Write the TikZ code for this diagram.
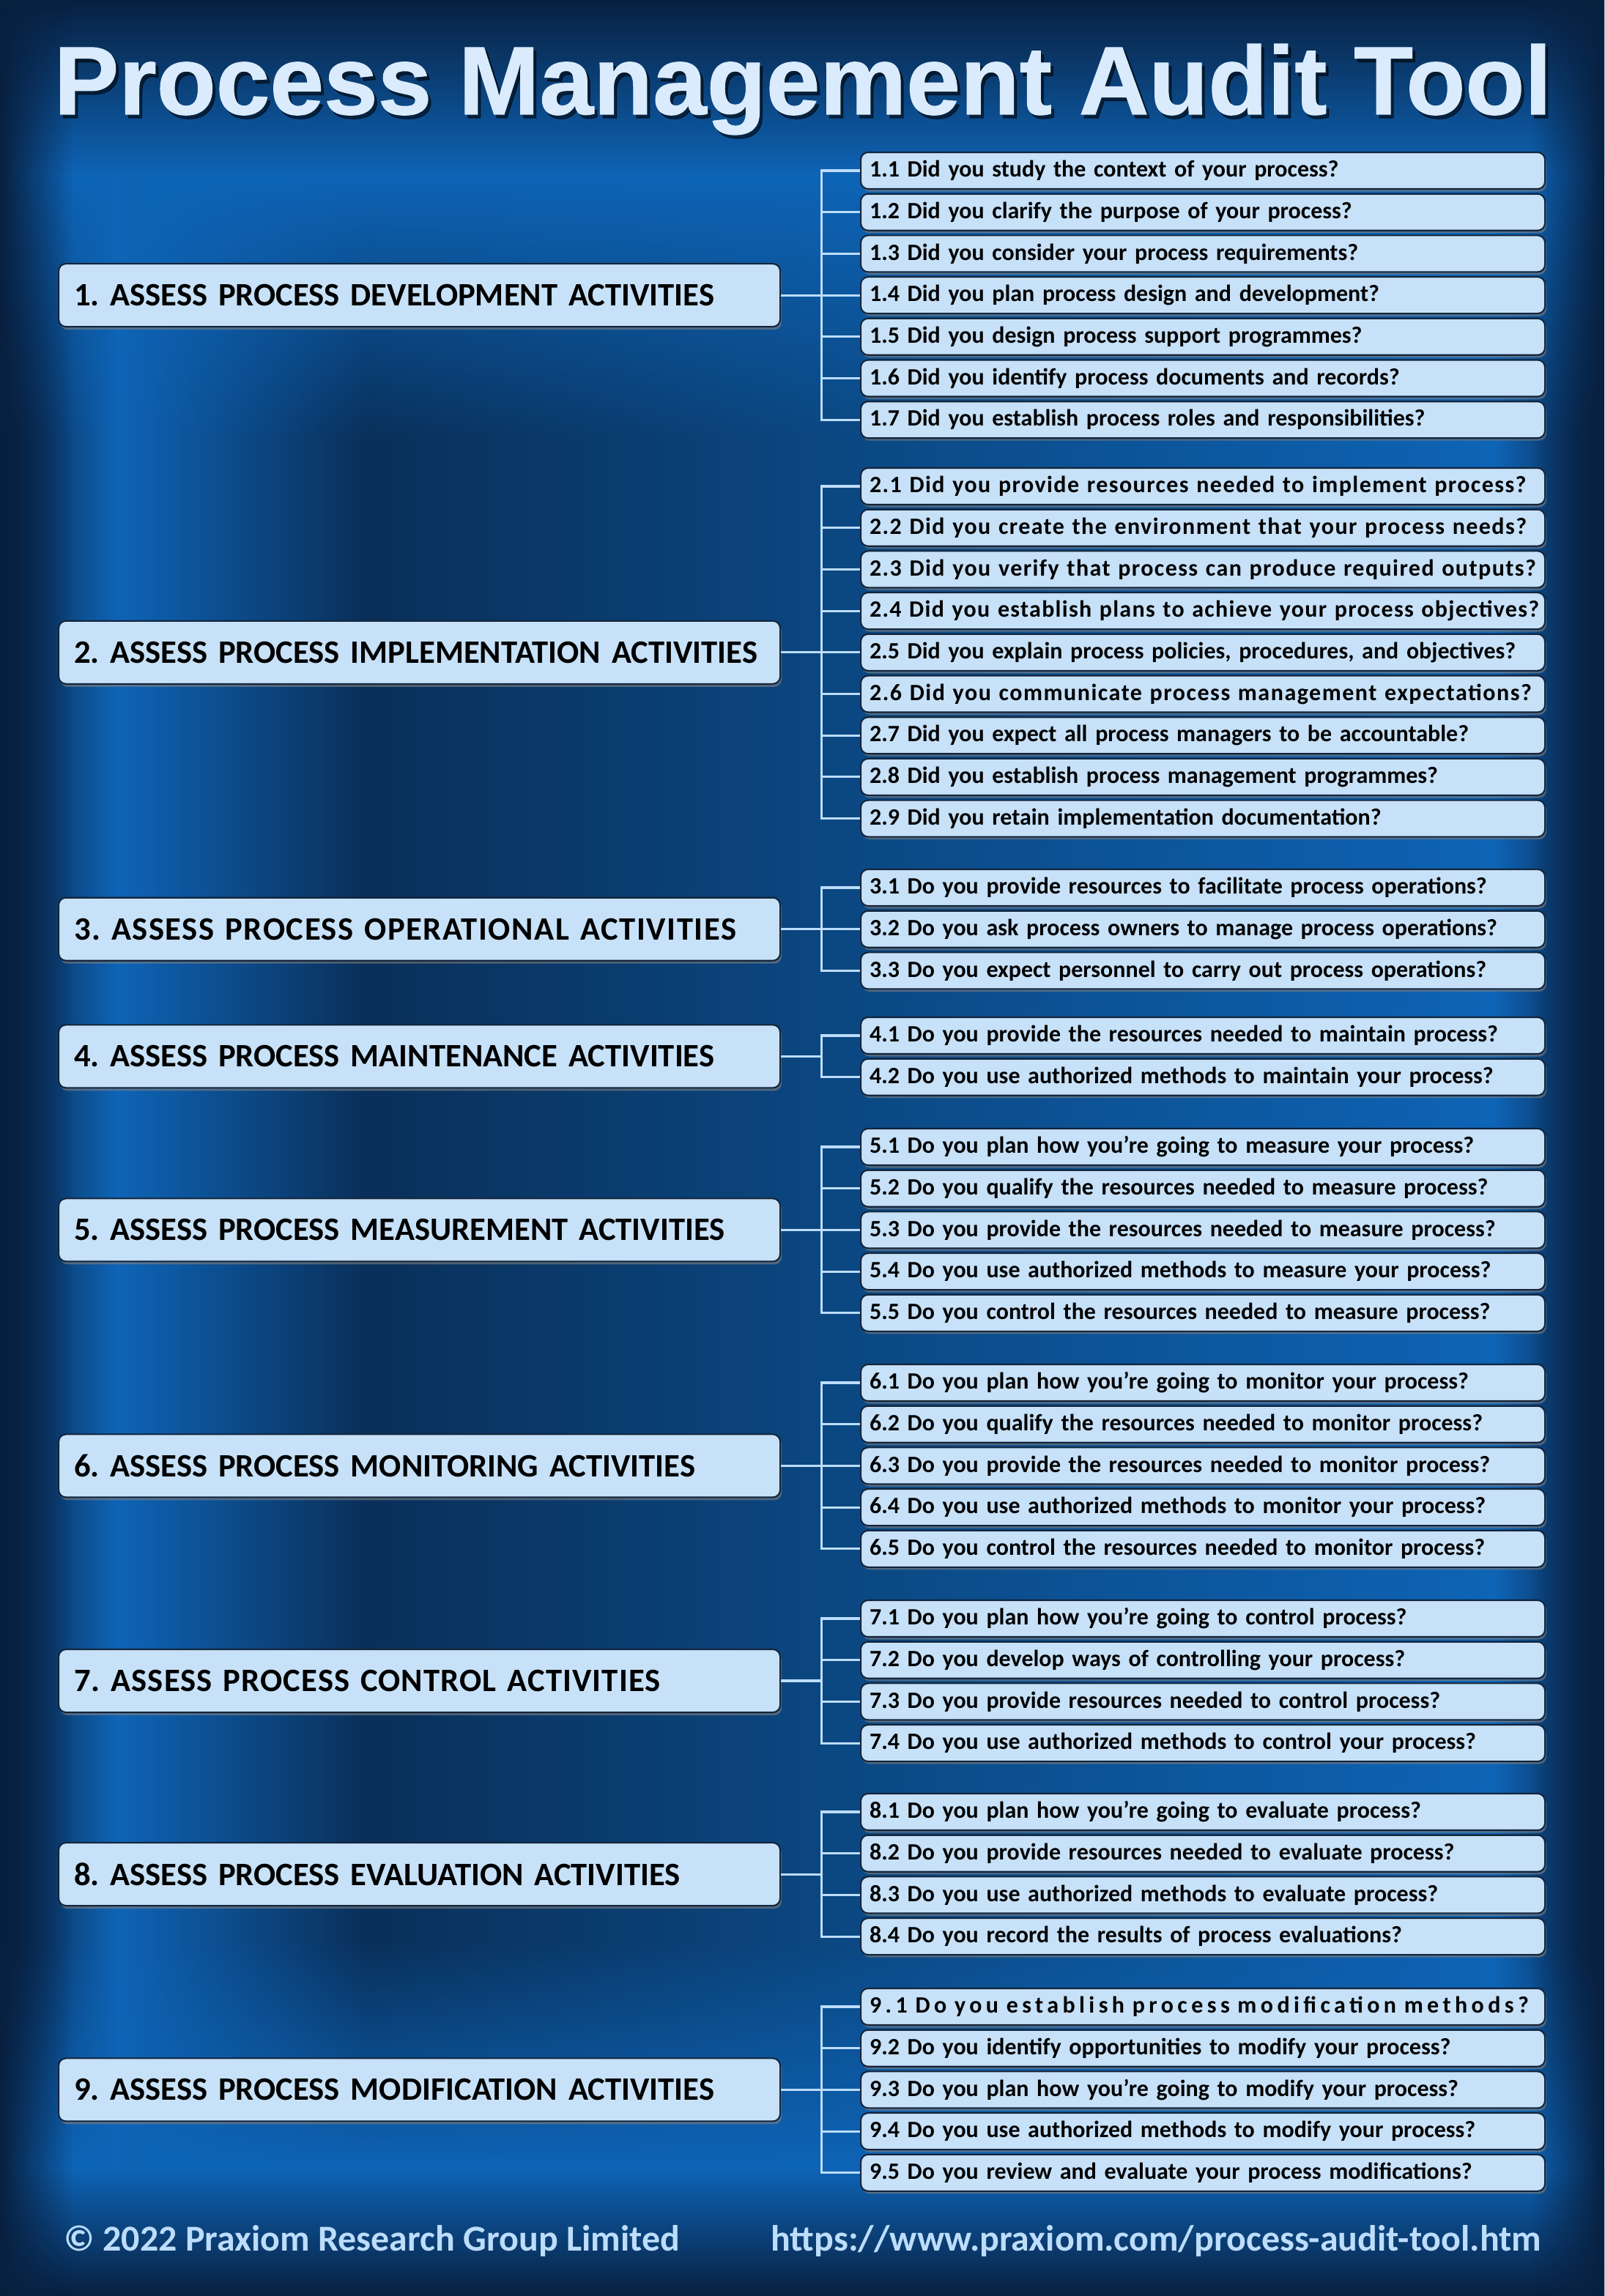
\documentclass[tikz,border=0pt]{standalone}
\usepackage{fontspec}
\setmainfont{Carlito}
\newfontfamily\titlefont{Liberation Sans}[BoldFeatures={FakeBold=0.8}]
\usetikzlibrary{shadows,fadings}
\definecolor{bgDark}{HTML}{082040}
\definecolor{bgMid}{HTML}{0B467F}
\definecolor{bgBright}{HTML}{0E64B6}
\definecolor{boxFill}{HTML}{C6E1F8}
\definecolor{boxEdge}{HTML}{13243A}
\definecolor{twigBlue}{HTML}{BCDDFB}
\definecolor{titleBlue}{HTML}{D9EBFC}
\tikzfading[name=fadetop, top color=transparent!0, bottom color=transparent!100]
\tikzfading[name=fadebottom, top color=transparent!100, bottom color=transparent!0]
\tikzfading[name=fadeleft, left color=transparent!0, right color=transparent!100]
\tikzfading[name=faderight, left color=transparent!100, right color=transparent!0]
\newcommand{\spaced}[1]{\addfontfeature{LetterSpace=#1}}
\frenchspacing
\begin{document}
\begin{tikzpicture}
\def\pitch{0.567}
\tikzset{mainbox/.style={rectangle, draw=boxEdge, line width=0.6pt, fill=boxFill, rounded corners=0.1cm, anchor=west, minimum height=0.86cm, text width=9.43cm, inner xsep=0.21cm, inner ysep=0pt, align=left, font=\fontsize{12.7}{14}\selectfont\bfseries, drop shadow={shadow xshift=0.02cm, shadow yshift=-0.04cm, opacity=0.6}}}
\tikzset{subbox/.style={rectangle, draw=boxEdge, line width=0.6pt, fill=boxFill, rounded corners=0.1cm, anchor=west, minimum height=0.5cm, text width=9.1cm, inner xsep=0.12cm, inner ysep=0pt, align=left, font=\fontsize{9.1}{10}\selectfont\bfseries, drop shadow={shadow xshift=0.02cm, shadow yshift=-0.035cm, opacity=0.6}}}
\tikzset{twig/.style={draw=twigBlue, line width=0.9pt}}
\tikzset{foot/.style={text=twigBlue, font=\fontsize{14.2}{16}\selectfont\bfseries, inner sep=0pt}}

% background
\shade[left color=bgDark, right color=bgBright] (0,0) rectangle (1.6,-31.35);
\shade[left color=bgBright, right color=bgDark!60!bgMid] (1.6,0) rectangle (5,-31.35);
\shade[left color=bgDark!60!bgMid, right color=bgMid] (5,0) rectangle (11,-31.35);
\shade[left color=bgMid, right color=bgBright] (11,0) rectangle (20.4,-31.35);
\shade[left color=bgBright, right color=bgDark] (20.4,0) rectangle (21.9,-31.35);
\fill[bgBright, path fading=fadetop] (0,-2.4) rectangle (21.9,-6.0);
\shade[top color=bgDark, bottom color=bgBright] (0,0) rectangle (21.9,-2.4);
\fill[bgBright, path fading=fadebottom] (0,-26.5) rectangle (21.9,-29.6);
\shade[top color=bgBright, bottom color=bgDark] (0,-29.6) rectangle (21.9,-31.35);
\fill[bgDark, path fading=fadeleft] (0,0) rectangle (1.0,-31.35);
\fill[bgDark, path fading=faderight] (20.9,0) rectangle (21.9,-31.35);

% title
\node[anchor=base, text=black, opacity=0.55, font=\titlefont\bfseries\fontsize{37.7}{40}\selectfont] (titleshade) at (11.0,-1.61) {Process Management Audit Tool};
\node[anchor=base, text=titleBlue, font=\titlefont\bfseries\fontsize{37.7}{40}\selectfont] (title) at (10.96,-1.56) {Process Management Audit Tool};

\newcommand{\auditgroup}[5]{
\node[mainbox] (#1m) at (0.79, {-(#2+(#3-1)*\pitch/2)}) {\mbox{#4}};
\foreach \q [count=\i] in {#5}{
\node[subbox] (#1s\i) at (11.74, {-(#2+(\i-1)*\pitch)}) {\mbox{\q}};
\draw[twig] (#1m.east) -- ++(0.55,0) |- (#1s\i.west);
}
}

\auditgroup{dev}{2.33}{7}{1. ASSESS PROCESS DEVELOPMENT ACTIVITIES}{1.1 Did you study the context of your process?, 1.2 Did you clarify the purpose of your process?, 1.3 Did you consider your process requirements?, 1.4 Did you plan process design and development?, 1.5 Did you design process support programmes?, 1.6 Did you identify process documents and records?, 1.7 Did you establish process roles and responsibilities?}
\auditgroup{imp}{6.64}{9}{2. ASSESS PROCESS IMPLEMENTATION ACTIVITIES}{\spaced{4.5}2.1 Did you provide resources needed to implement process?, \spaced{4.5}2.2 Did you create the environment that your process needs?, \spaced{4.5}2.3 Did you verify that process can produce required outputs?, \spaced{4}2.4 Did you establish plans to achieve your process objectives?, {2.5 Did you explain process policies, procedures, and objectives?}, \spaced{4.8}2.6 Did you communicate process management expectations?, 2.7 Did you expect all process managers to be accountable?, 2.8 Did you establish process management programmes?, 2.9 Did you retain implementation documentation?}
\auditgroup{ops}{12.12}{3}{\spaced{3.5}3. ASSESS PROCESS OPERATIONAL ACTIVITIES}{3.1 Do you provide resources to facilitate process operations?, 3.2 Do you ask process owners to manage process operations?, 3.3 Do you expect personnel to carry out process operations?}
\auditgroup{mnt}{14.14}{2}{4. ASSESS PROCESS MAINTENANCE ACTIVITIES}{4.1 Do you provide the resources needed to maintain process?, 4.2 Do you use authorized methods to maintain your process?}
\auditgroup{msr}{15.66}{5}{5. ASSESS PROCESS MEASUREMENT ACTIVITIES}{5.1 Do you plan how you’re going to measure your process?, 5.2 Do you qualify the resources needed to measure process?, 5.3 Do you provide the resources needed to measure process?, 5.4 Do you use authorized methods to measure your process?, 5.5 Do you control the resources needed to measure process?}
\auditgroup{mon}{18.88}{5}{6. ASSESS PROCESS MONITORING ACTIVITIES}{6.1 Do you plan how you’re going to monitor your process?, 6.2 Do you qualify the resources needed to monitor process?, 6.3 Do you provide the resources needed to monitor process?, 6.4 Do you use authorized methods to monitor your process?, 6.5 Do you control the resources needed to monitor process?}
\auditgroup{ctl}{22.10}{4}{\spaced{2.5}7. ASSESS PROCESS CONTROL ACTIVITIES}{7.1 Do you plan how you’re going to control process?, 7.2 Do you develop ways of controlling your process?, 7.3 Do you provide resources needed to control process?, 7.4 Do you use authorized methods to control your process?}
\auditgroup{evl}{24.74}{4}{8. ASSESS PROCESS EVALUATION ACTIVITIES}{8.1 Do you plan how you’re going to evaluate process?, 8.2 Do you provide resources needed to evaluate process?, 8.3 Do you use authorized methods to evaluate process?, 8.4 Do you record the results of process evaluations?}
\auditgroup{mod}{27.40}{5}{9. ASSESS PROCESS MODIFICATION ACTIVITIES}{\spaced{17}9.1 Do you establish process modification methods?, 9.2 Do you identify opportunities to modify your process?, 9.3 Do you plan how you’re going to modify your process?, 9.4 Do you use authorized methods to modify your process?, 9.5 Do you review and evaluate your process modifications?}

% footer
\node[foot, anchor=base west] (copy) at (0.87,-30.73) {© 2022 Praxiom Research Group Limited};
\node[foot, anchor=base east] (url) at (21.05,-30.73) {https://www.praxiom.com/process-audit-tool.htm};
\end{tikzpicture}
\end{document}
